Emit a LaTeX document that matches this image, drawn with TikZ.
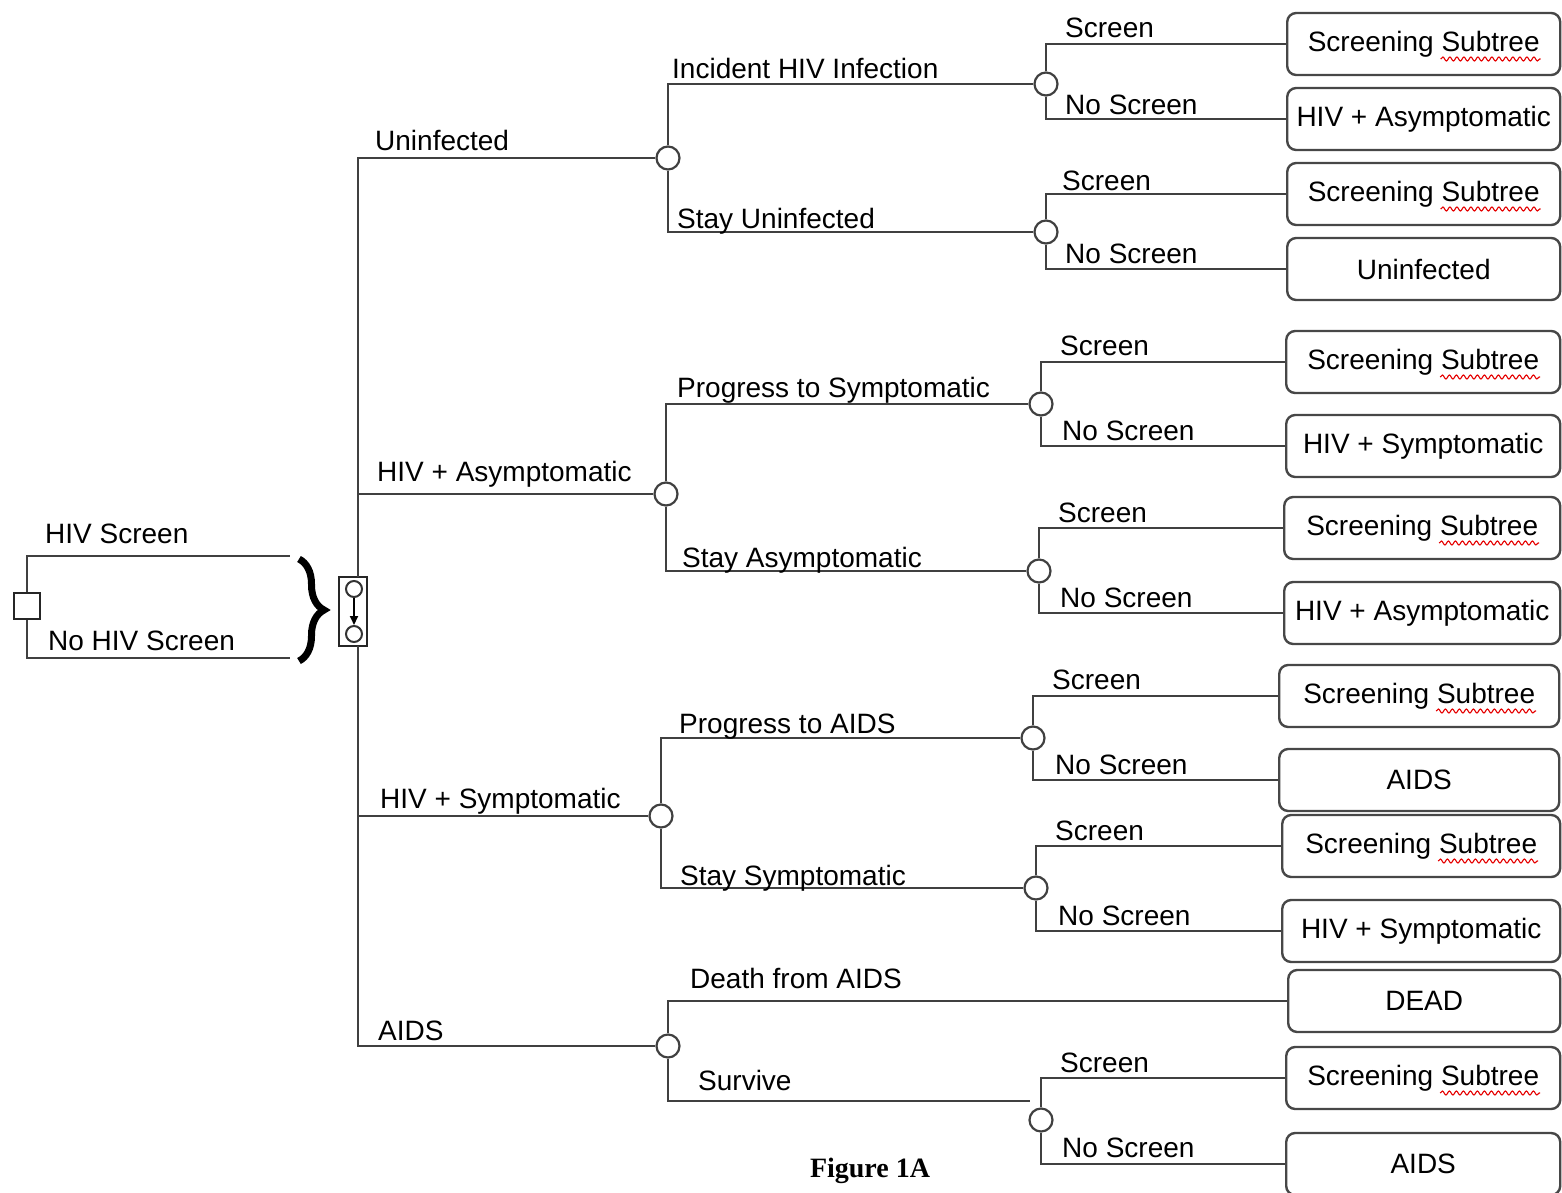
\documentclass[tikz,border=0pt]{standalone}
\usepackage{fontspec}
\setmainfont{Liberation Sans}
\newfontfamily\capfont{Liberation Serif}
\usetikzlibrary{decorations.pathreplacing,decorations.pathmorphing,arrows.meta,calc}
\begin{document}
\begin{tikzpicture}[x=1pt,y=-1pt,
  conn/.style={draw=black!75,line width=2.6pt},
  chance/.style={circle,draw=black!75,fill=white,line width=2.2pt,minimum size=23pt,inner sep=0pt},
  decis/.style={rectangle,draw=black!85,fill=white,line width=2.2pt,minimum size=26pt,inner sep=0pt},
  term/.style={rectangle,rounded corners=9pt,draw=black!72,line width=2.4pt,minimum height=62pt,anchor=west,inner sep=0pt,font=\fontsize{28}{32}\selectfont},
  lbl/.style={anchor=base west,inner sep=0pt,font=\fontsize{28}{32}\selectfont},
  squig/.style={draw=red!90!black,line width=1.1pt,decorate,decoration={snake,amplitude=2pt,segment length=7pt}}
]
\useasboundingbox (0,0) rectangle (1562,1192);

% root decision
\node[decis] (root) at (27,606) {};
\coordinate (a1) at (290,556);
\coordinate (a2) at (290,658);
\draw[conn] (root.north) |- (a1);
\draw[conn] (root.south) |- (a2);
\node[lbl] (lhs) at (45,543) {HIV Screen};
\node[lbl] (lnhs) at (48,650) {No HIV Screen};
\draw[decorate,decoration={brace,amplitude=25pt},line width=7pt] (299,559) -- (299,661);

% markov node
\node[draw=black!85,line width=2pt,minimum width=28pt,minimum height=69pt,inner sep=0pt] (mk) at (353,611) {};
\node[circle,draw=black!80,line width=2pt,minimum size=16pt,inner sep=0pt] (mk1) at (354,589) {};
\node[circle,draw=black!80,line width=2pt,minimum size=16pt,inner sep=0pt] (mk2) at (354,634) {};
\draw[line width=2pt,-{Triangle[length=9pt,width=8pt]}] (mk1) -- (mk2);
\coordinate (mt) at (358,576.5);
\coordinate (mb) at (358,645.5);

% level 1 chance nodes
\node[chance] (c1) at (668,158) {};
\node[chance] (c2) at (666,494) {};
\node[chance] (c3) at (661,816) {};
\node[chance] (c4) at (668,1046) {};
\draw[conn] (mt) |- (c1.west);
\draw[conn] (mt) |- (c2.west);
\draw[conn] (mb) |- (c3.west);
\draw[conn] (mb) |- (c4.west);
\node[lbl] (l1) at (375,150) {Uninfected};
\node[lbl] (l2) at (377,481) {HIV + Asymptomatic};
\node[lbl] (l3) at (380,808) {HIV + Symptomatic};
\node[lbl] (l4) at (378,1040) {AIDS};

% level 2 chance nodes
\node[chance] (d1) at (1046,84) {};
\node[chance] (d2) at (1046,232) {};
\node[chance] (d3) at (1041,404) {};
\node[chance] (d4) at (1039,571) {};
\node[chance] (d5) at (1033,738) {};
\node[chance] (d6) at (1036,888) {};
\node[chance] (d7) at (1041,1120) {};
\coordinate (sv) at (1030,1101);

% terminal boxes
\node[term,minimum width=273pt] (t1) at (1286,44) {Screening Subtree};
\node[term,minimum width=273pt] (t2) at (1286,119) {HIV + Asymptomatic};
\node[term,minimum width=273pt] (t3) at (1286,194) {Screening Subtree};
\node[term,minimum width=273pt] (t4) at (1286,269) {Uninfected};
\node[term,minimum width=274pt] (t5) at (1285,362) {Screening Subtree};
\node[term,minimum width=274pt] (t6) at (1285,446) {HIV + Symptomatic};
\node[term,minimum width=276pt] (t7) at (1283,528) {Screening Subtree};
\node[term,minimum width=276pt] (t8) at (1283,613) {HIV + Asymptomatic};
\node[term,minimum width=280pt] (t9) at (1278,696) {Screening Subtree};
\node[term,minimum width=280pt] (t10) at (1278,780) {AIDS};
\node[term,minimum width=278pt] (t11) at (1281,846) {Screening Subtree};
\node[term,minimum width=278pt] (t12) at (1281,931) {HIV + Symptomatic};
\node[term,minimum width=272pt] (tD) at (1287,1001) {DEAD};
\node[term,minimum width=274pt] (t13) at (1285,1078) {Screening Subtree};
\node[term,minimum width=274pt] (t14) at (1285,1164) {AIDS};
\foreach \b in {t1,t3,t5,t7,t9,t11,t13}
  \draw[squig] ($(\b.center)+(17,15)$) -- ($(\b.center)+(117,15)$);

% level 2 connectors
\draw[conn] (c1.north) |- (d1.west);
\draw[conn] (c1.south) |- (d2.west);
\draw[conn] (c2.north) |- (d3.west);
\draw[conn] (c2.south) |- (d4.west);
\draw[conn] (c3.north) |- (d5.west);
\draw[conn] (c3.south) |- (d6.west);
\draw[conn] (c4.north) |- (tD.west);
\draw[conn] (c4.south) |- (sv);
\node[lbl] (m1) at (672,78) {Incident HIV Infection};
\node[lbl] (m2) at (677,228) {Stay Uninfected};
\node[lbl] (m3) at (677,397) {Progress to Symptomatic};
\node[lbl] (m4) at (682,567) {Stay Asymptomatic};
\node[lbl] (m5) at (679,733) {Progress to AIDS};
\node[lbl] (m6) at (680,885) {Stay Symptomatic};
\node[lbl] (m7) at (690,988) {Death from AIDS};
\node[lbl] (m8) at (698,1090) {Survive};

% level 3 connectors
\draw[conn] (d1.north) |- (t1.west);
\draw[conn] (d1.south) |- (t2.west);
\draw[conn] (d2.north) |- (t3.west);
\draw[conn] (d2.south) |- (t4.west);
\draw[conn] (d3.north) |- (t5.west);
\draw[conn] (d3.south) |- (t6.west);
\draw[conn] (d4.north) |- (t7.west);
\draw[conn] (d4.south) |- (t8.west);
\draw[conn] (d5.north) |- (t9.west);
\draw[conn] (d5.south) |- (t10.west);
\draw[conn] (d6.north) |- (t11.west);
\draw[conn] (d6.south) |- (t12.west);
\draw[conn] (d7.north) |- (t13.west);
\draw[conn] (d7.south) |- (t14.west);

\node[lbl] (s1) at (1065,37) {Screen};
\node[lbl] (n1) at (1065,114) {No Screen};
\node[lbl] (s2) at (1062,190) {Screen};
\node[lbl] (n2) at (1065,263) {No Screen};
\node[lbl] (s3) at (1060,355) {Screen};
\node[lbl] (n3) at (1062,440) {No Screen};
\node[lbl] (s4) at (1058,522) {Screen};
\node[lbl] (n4) at (1060,607) {No Screen};
\node[lbl] (s5) at (1052,689) {Screen};
\node[lbl] (n5) at (1055,774) {No Screen};
\node[lbl] (s6) at (1055,840) {Screen};
\node[lbl] (n6) at (1058,925) {No Screen};
\node[lbl] (s7) at (1060,1072) {Screen};
\node[lbl] (n7) at (1062,1157) {No Screen};

% caption
\node[anchor=base,inner sep=0pt,font=\capfont\bfseries\fontsize{28}{32}\selectfont] (cap) at (870,1177) {Figure 1A};
\end{tikzpicture}
\end{document}
